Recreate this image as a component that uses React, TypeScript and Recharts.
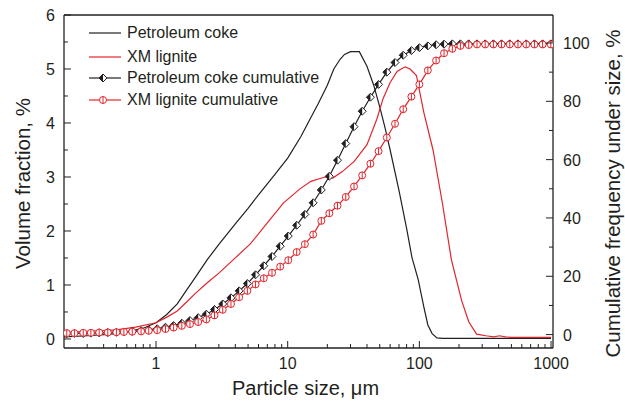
import React from 'react';
import { LineChart, Line, XAxis, YAxis, ReferenceLine, Legend } from 'recharts';

const FONT = '"Liberation Sans", Arial, Helvetica, sans-serif';
const INK = '#231f20';
const RED = '#e3242b';

// Volume fraction curves (size in µm, volume %)
const cokeVolSizes = [0.2, 0.3, 0.4, 0.5, 0.6, 0.8, 1.0, 1.2, 1.45, 1.7, 2.0, 2.45, 3, 4, 5, 6, 8, 10, 12.6, 15, 17, 20, 22.4, 25, 27, 30, 35, 40, 45, 50, 55, 60, 70, 80, 88, 98, 108, 116, 125, 136, 150, 1000];
const cokeVolume = [0.04, 0.06, 0.08, 0.1, 0.13, 0.2, 0.3, 0.45, 0.65, 0.9, 1.15, 1.47, 1.75, 2.13, 2.42, 2.67, 3.05, 3.35, 3.75, 4.1, 4.35, 4.7, 5.0, 5.18, 5.27, 5.32, 5.32, 5.05, 4.7, 4.3, 3.9, 3.5, 2.75, 2.05, 1.5, 1.1, 0.6, 0.26, 0.1, 0.02, 0.01, 0.01];

const ligVolSizes = [0.2, 0.3, 0.5, 0.7, 1.0, 1.2, 1.45, 1.7, 2.0, 2.45, 3, 3.87, 5.2, 7, 9.3, 12.4, 15, 19.2, 22, 26, 32, 40, 47.5, 53, 60, 68, 78, 85, 95, 108, 127, 150, 175, 209, 237, 272, 320, 367, 406, 450, 500, 1000];
const ligniteVolume = [0.12, 0.14, 0.17, 0.22, 0.3, 0.4, 0.52, 0.68, 0.85, 1.04, 1.22, 1.47, 1.76, 2.15, 2.52, 2.78, 2.92, 3.0, 2.98, 3.1, 3.29, 3.6, 4.07, 4.45, 4.75, 4.96, 5.04, 5.0, 4.88, 4.2, 3.5, 2.5, 1.47, 0.72, 0.32, 0.09, 0.06, 0.04, 0.06, 0.04, 0.03, 0.03];

// Cumulative curves (size bins in µm, cumulative %)
const cumSizes = [0.21, 0.24, 0.28, 0.32, 0.37, 0.43, 0.5, 0.57, 0.66, 0.77, 0.88, 1.02, 1.18, 1.36, 1.57, 1.81, 2.09, 2.41, 2.78, 3.21, 3.71, 4.28, 4.94, 5.7, 6.58, 7.6, 8.77, 10.1, 11.7, 13.5, 15.6, 18.0, 20.7, 23.9, 27.6, 31.9, 36.8, 42.5, 49.0, 56.6, 65.3, 75.4, 87.0, 100, 116, 134, 154, 178, 205, 237, 274, 316, 365, 421, 486, 561, 648, 748, 863, 996];
const cokeCumulative = [0.3, 0.4, 0.4, 0.5, 0.6, 0.7, 0.8, 0.9, 1.1, 1.3, 1.6, 2.0, 2.5, 3.1, 3.9, 4.8, 5.8, 7.0, 8.6, 10.5, 12.6, 15.0, 17.5, 20.5, 23.6, 26.8, 30.3, 33.8, 37.5, 41.2, 45.2, 49.6, 54.3, 59.8, 65.5, 71.3, 76.6, 81.4, 85.8, 90.0, 93.3, 95.8, 97.4, 98.4, 99.0, 99.4, 99.6, 99.7, 99.7, 99.7, 99.7, 99.7, 99.7, 99.7, 99.7, 99.7, 99.7, 99.7, 99.7, 99.7];
const ligniteCumulative = [0.5, 0.5, 0.6, 0.6, 0.7, 0.7, 0.8, 0.9, 1.0, 1.1, 1.3, 1.5, 1.9, 2.4, 3.0, 3.6, 4.3, 5.2, 6.6, 8.5, 10.5, 12.8, 15.0, 17.2, 19.3, 21.2, 23.3, 25.5, 28.3, 31.0, 34.3, 39.0, 41.6, 44.2, 47.2, 50.8, 54.6, 58.6, 62.9, 67.6, 72.3, 77.3, 81.6, 85.8, 90.6, 94.0, 96.5, 98.0, 99.0, 99.3, 99.5, 99.5, 99.5, 99.5, 99.5, 99.5, 99.5, 99.5, 99.5, 99.5];

const xMajorTicks = [1, 10, 100, 1000];
const xTicks = [0.3, 0.4, 0.5, 0.6, 0.7, 0.8, 0.9, 1, 2, 3, 4, 5, 6, 7, 8, 9, 10, 20, 30, 40, 50, 60, 70, 80, 90, 100, 200, 300, 400, 500, 600, 700, 800, 900, 1000];
const leftTicks = [0, 0.5, 1, 1.5, 2, 2.5, 3, 3.5, 4, 4.5, 5, 5.5, 6];
const leftMajor = [0, 1, 2, 3, 4, 5, 6];
const rightTicks = [0, 10, 20, 30, 40, 50, 60, 70, 80, 90, 100];
const rightMajor = [0, 20, 40, 60, 80, 100];

const seriesNames = ['Petroleum coke', 'XM lignite', 'Petroleum coke cumulative', 'XM lignite cumulative'];

const toXY = (xs: number[], ys: number[]) => xs.map((x, i) => ({ x, y: ys[i] }));
const cokeVolData = toXY(cokeVolSizes, cokeVolume);
const ligVolData = toXY(ligVolSizes, ligniteVolume);
const cokeCumData = toXY(cumSizes, cokeCumulative);
const ligCumData = toXY(cumSizes, ligniteCumulative);

const Diamond = (props: any) => {
  const { cx, cy, index } = props;
  if (cx == null || cy == null) return <g key={index} />;
  const r = 4;
  return (
    <g key={`d${index}`}>
      <path d={`M${cx},${cy - r} L${cx + r},${cy} L${cx},${cy + r} L${cx - r},${cy} Z`} fill="#fff" stroke={INK} strokeWidth={1} />
      <path d={`M${cx},${cy - r} L${cx - r},${cy} L${cx},${cy + r} Z`} fill={INK} />
    </g>
  );
};

const Ring = (props: any) => {
  const { cx, cy, index } = props;
  if (cx == null || cy == null) return <g key={index} />;
  const r = 3.5;
  return (
    <g key={`r${index}`}>
      <circle cx={cx} cy={cy} r={r} fill="#fff" stroke={RED} strokeWidth={1} />
      <line x1={cx} x2={cx} y1={cy - r} y2={cy + r} stroke={RED} strokeWidth={1} />
    </g>
  );
};

const XTick = (props: any) => {
  const { x, y, payload } = props;
  const major = xMajorTicks.includes(payload.value);
  return (
    <g>
      <line x1={x} x2={x} y1={y} y2={y - (major ? 7 : 4)} stroke={INK} strokeWidth={1} />
      {major && (
        <text x={x} y={y + 21} textAnchor="middle" fontSize={16} fill={INK} fontFamily={FONT}>
          {payload.value}
        </text>
      )}
    </g>
  );
};

const LeftTick = (props: any) => {
  const { x, y, payload } = props;
  const major = leftMajor.includes(payload.value);
  return (
    <g>
      <line x1={x} x2={x + (major ? 7 : 4)} y1={y} y2={y} stroke={INK} strokeWidth={1} />
      {major && (
        <text x={x - 9} y={y + 6} textAnchor="end" fontSize={16} fill={INK} fontFamily={FONT}>
          {payload.value}
        </text>
      )}
    </g>
  );
};

const RightTick = (props: any) => {
  const { x, y, payload } = props;
  const major = rightMajor.includes(payload.value);
  return (
    <g>
      <line x1={x} x2={x - (major ? 7 : 4)} y1={y} y2={y} stroke={INK} strokeWidth={1} />
      {major && (
        <text x={x + 10} y={y + 6} textAnchor="start" fontSize={16} fill={INK} fontFamily={FONT}>
          {payload.value}
        </text>
      )}
    </g>
  );
};

const LegendBox = () => {
  const rows = [
    { y: 13, color: INK, marker: null },
    { y: 37, color: RED, marker: null },
    { y: 58, color: INK, marker: 'diamond' },
    { y: 80, color: RED, marker: 'ring' },
  ];
  return (
    <svg width={270} height={95} style={{ overflow: 'visible' }}>
      {rows.map((r, i) => (
        <g key={i}>
          <line x1={9} x2={41} y1={r.y} y2={r.y} stroke={r.color} strokeWidth={1.2} />
          {r.marker === 'diamond' && <Diamond cx={23} cy={r.y} index={900} />}
          {r.marker === 'ring' && <Ring cx={23} cy={r.y} index={901} />}
          <text x={47} y={r.y + 5} fontSize={16} fill={INK} fontFamily={FONT}>
            {seriesNames[i]}
          </text>
        </g>
      ))}
    </svg>
  );
};

export default function App() {
  return (
    <div style={{ position: 'absolute', left: 0, top: 0, width: 625, height: 406, background: '#fff' }}>
      <LineChart width={625} height={406} margin={{ top: 15, right: 22, bottom: 28, left: 20 }}>
        <XAxis
          dataKey="x"
          type="number"
          scale="log"
          domain={[0.2, 1035]}
          allowDataOverflow
          ticks={xTicks}
          interval={0}
          tick={<XTick />}
          tickLine={false}
          tickSize={0}
          tickMargin={0}
          height={30}
          axisLine={{ stroke: INK, strokeWidth: 1.3 }}
          label={{
            content: (p: any) => {
              const vb = p.viewBox;
              return (
                <text x={vb.x + vb.width / 2 - 3} y={vb.y + 47} textAnchor="middle" fontSize={20} fill={INK} fontFamily={FONT}>
                  Particle size, μm
                </text>
              );
            },
          }}
        />
        <YAxis
          yAxisId="left"
          type="number"
          domain={[-0.167, 6]}
          allowDataOverflow
          ticks={leftTicks}
          interval={0}
          tick={<LeftTick />}
          tickLine={false}
          tickSize={0}
          tickMargin={0}
          width={44}
          axisLine={{ stroke: INK, strokeWidth: 1.3 }}
          label={{
            content: (p: any) => {
              const vb = p.viewBox;
              const cx = vb.x + 2;
              const cy = vb.y + vb.height / 2 + 2;
              return (
                <text transform={`translate(${cx},${cy}) rotate(-90)`} textAnchor="middle" dominantBaseline="central" fontSize={20.5} fill={INK} fontFamily={FONT}>
                  Volume fraction, %
                </text>
              );
            },
          }}
        />
        <YAxis
          yAxisId="right"
          orientation="right"
          type="number"
          domain={[-4.6, 109.6]}
          allowDataOverflow
          ticks={rightTicks}
          interval={0}
          tick={<RightTick />}
          tickLine={false}
          tickSize={0}
          tickMargin={0}
          width={50}
          axisLine={{ stroke: INK, strokeWidth: 1.3 }}
          label={{
            content: (p: any) => {
              const vb = p.viewBox;
              const cx = vb.x + 59;
              const cy = vb.y + vb.height / 2 + 12;
              return (
                <text transform={`translate(${cx},${cy}) rotate(-90)`} textAnchor="middle" dominantBaseline="central" fontSize={20.5} fill={INK} fontFamily={FONT}>
                  Cumulative frequency under size, %
                </text>
              );
            },
          }}
        />
        <ReferenceLine yAxisId="left" y={6} stroke={INK} strokeWidth={1.3} />
        <Line yAxisId="left" data={cokeVolData} dataKey="y" name={seriesNames[0]} stroke={INK} strokeWidth={1.2} dot={false} isAnimationActive={false} />
        <Line yAxisId="left" data={ligVolData} dataKey="y" name={seriesNames[1]} stroke={RED} strokeWidth={1.2} dot={false} isAnimationActive={false} />
        <Line yAxisId="right" data={cokeCumData} dataKey="y" name={seriesNames[2]} stroke={INK} strokeWidth={1.2} dot={<Diamond />} isAnimationActive={false} />
        <Line yAxisId="right" data={ligCumData} dataKey="y" name={seriesNames[3]} stroke={RED} strokeWidth={1.2} dot={<Ring />} isAnimationActive={false} />
        <Legend
          layout="horizontal"
          verticalAlign="middle"
          align="center"
          content={<LegendBox />}
          wrapperStyle={{ position: 'absolute', left: 80, top: 20, width: 270, height: 95 }}
        />
      </LineChart>
    </div>
  );
}
